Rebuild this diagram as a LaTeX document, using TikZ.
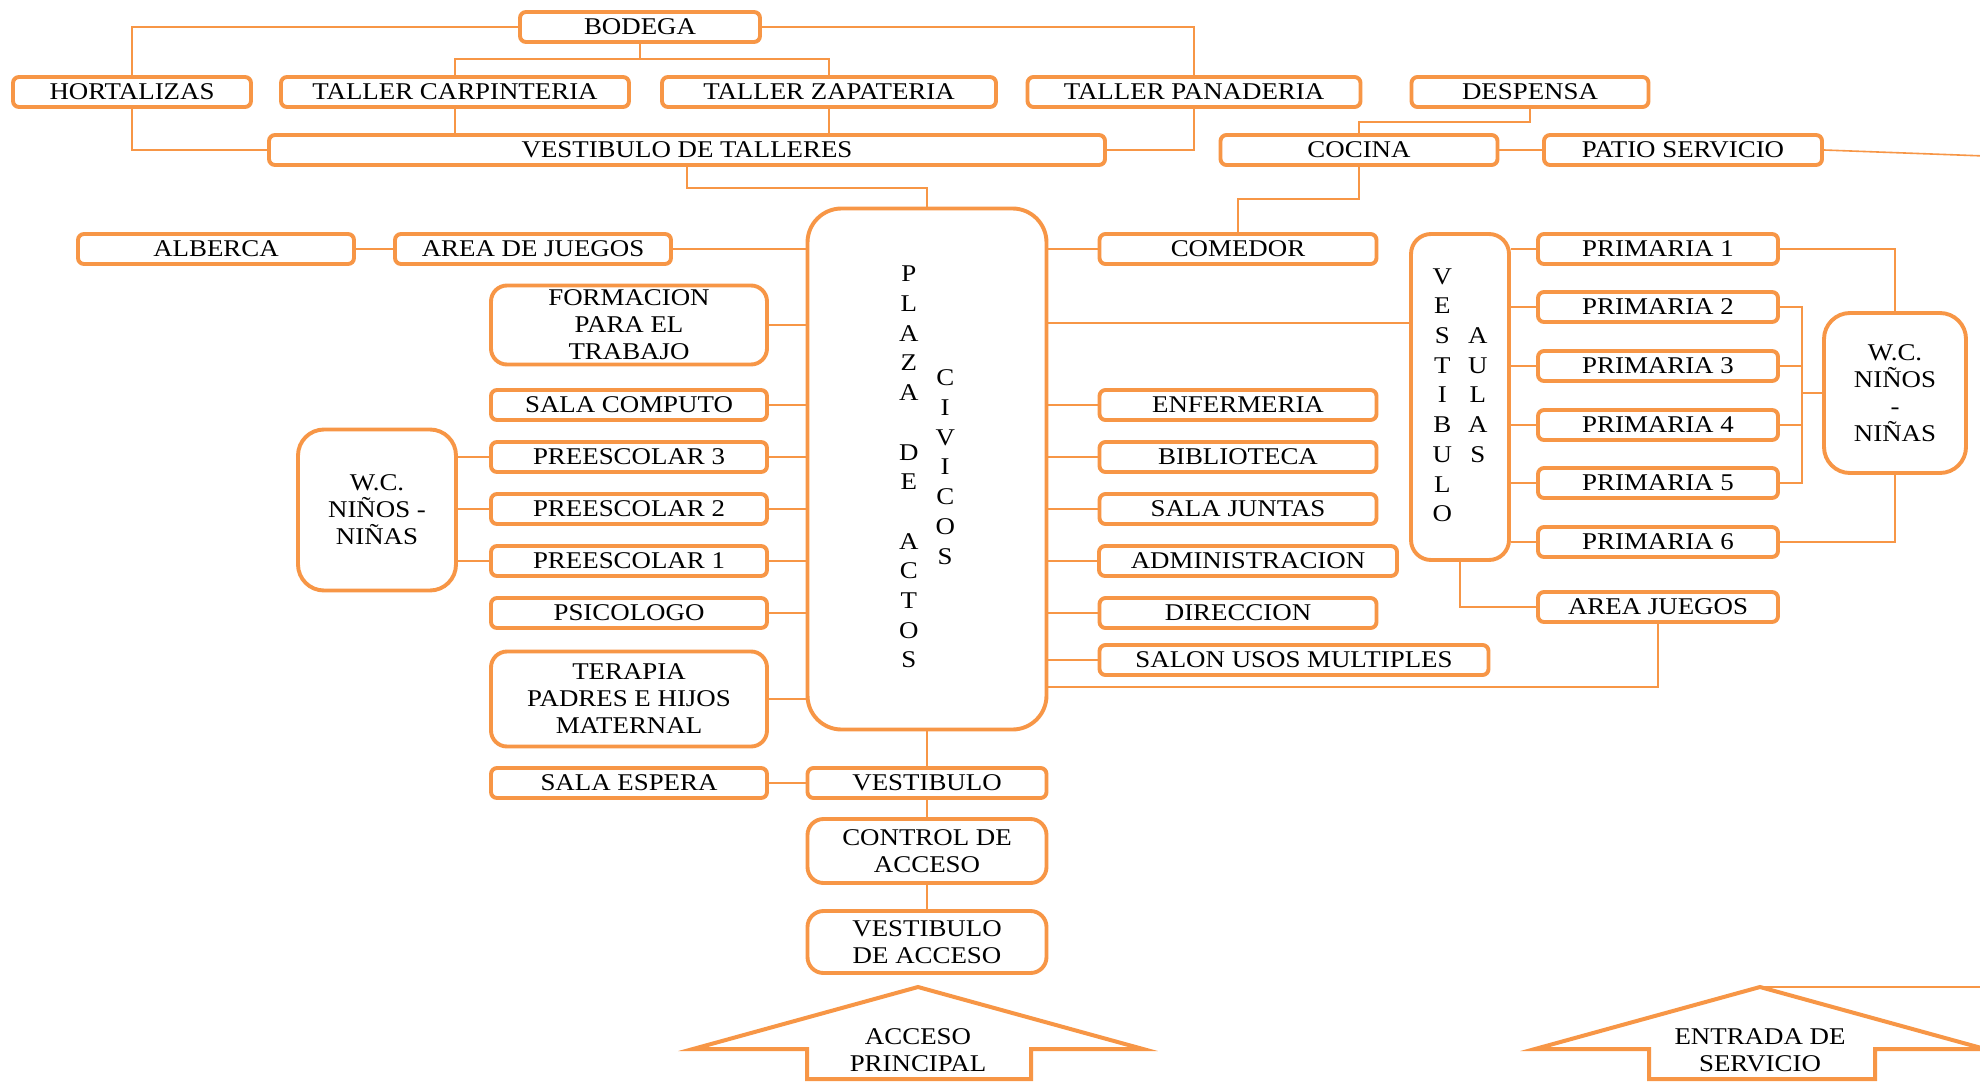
\documentclass[tikz,border=0pt]{standalone}
\usepackage{fontspec}
\setmainfont{Liberation Serif}[FakeStretch=1.12]
\usepackage{tikz}
\usetikzlibrary{calc}
\definecolor{naranja}{RGB}{247,150,70}
\newcommand{\vcol}[1]{{\fontsize{24}{29.7}\selectfont\begin{tabular}[c]{@{}c@{}}#1\end{tabular}}}
\tikzset{
  room/.style={draw=naranja, line width=3.9pt, rounded corners=6pt, fill=white, align=center, inner sep=0pt, minimum height=30pt},
  bigroom/.style={room, rounded corners=16pt},
  link/.style={draw=naranja, line width=1.6pt},
  entry/.style={draw=naranja, line width=4pt, line join=miter, fill=white},
  gate/.style={align=center, inner sep=0pt}
}

\begin{document}
\begin{tikzpicture}[x=1pt, y=-1pt, font=\fontsize{24}{27}\selectfont]
\useasboundingbox (0,0) rectangle (1980,1081);
\fill[white] (0,0) rectangle (1980,1081);
\clip (0,0) rectangle (1980,1081);

\node[room, minimum width=240] (bodega) at (640,27) {BODEGA};
\node[room, minimum width=238] (hortalizas) at (132,92) {HORTALIZAS};
\node[room, minimum width=348] (carpinteria) at (455,92) {TALLER CARPINTERIA};
\node[room, minimum width=334] (zapateria) at (829,92) {TALLER ZAPATERIA};
\node[room, minimum width=333] (panaderia) at (1194,92) {TALLER PANADERIA};
\node[room, minimum width=237] (despensa) at (1530,92) {DESPENSA};
\node[room, minimum width=836] (vesttalleres) at (687,150) {VESTIBULO DE TALLERES};
\node[room, minimum width=277] (cocina) at (1359,150) {COCINA};
\node[room, minimum width=278] (patio) at (1683,150) {PATIO SERVICIO};

\node[room, rounded corners=34pt, minimum width=239, minimum height=521] (plaza) at (927,469)
  {\vcol{P\\L\\A\\Z\\A\\~\\D\\E\\~\\A\\C\\T\\O\\S}\hspace{17pt}\vcol{C\\I\\V\\I\\C\\O\\S}};

\node[room, minimum width=276] (alberca) at (216,249) {ALBERCA};
\node[room, minimum width=276] (areadejuegos) at (533,249) {AREA DE JUEGOS};
\node[bigroom, minimum width=276, minimum height=79] (formacion) at (629,325) {FORMACION\\PARA EL\\TRABAJO};
\node[room, minimum width=276] (computo) at (629,405) {SALA COMPUTO};
\node[room, minimum width=276] (pre3) at (629,457) {PREESCOLAR 3};
\node[room, minimum width=276] (pre2) at (629,509) {PREESCOLAR 2};
\node[room, minimum width=276] (pre1) at (629,561) {PREESCOLAR 1};
\node[room, minimum width=276] (psicologo) at (629,613) {PSICOLOGO};
\node[bigroom, minimum width=276, minimum height=95] (terapia) at (629,699) {TERAPIA\\PADRES E HIJOS\\MATERNAL};
\node[room, minimum width=276] (espera) at (629,783) {SALA ESPERA};
\node[room, rounded corners=26pt, minimum width=158, minimum height=161] (wcpre) at (377,510) {W.C.\\NI\~NOS -\\NI\~NAS};

\node[room, minimum width=239] (vestibulo) at (927,783) {VESTIBULO};
\node[bigroom, minimum width=239, minimum height=64] (control) at (927,851) {CONTROL DE\\ACCESO};
\node[bigroom, minimum width=239, minimum height=62] (vestacceso) at (927,942) {VESTIBULO\\DE ACCESO};

\node[room, minimum width=277] (comedor) at (1238,249) {COMEDOR};
\node[room, minimum width=277] (enfermeria) at (1238,405) {ENFERMERIA};
\node[room, minimum width=277] (biblioteca) at (1238,457) {BIBLIOTECA};
\node[room, minimum width=277] (juntas) at (1238,509) {SALA JUNTAS};
\node[room, minimum width=298] (admin) at (1248,561) {ADMINISTRACION};
\node[room, minimum width=277] (direccion) at (1238,613) {DIRECCION};
\node[room, minimum width=389] (salon) at (1294,660) {SALON USOS MULTIPLES};

\node[room, rounded corners=20pt, minimum width=98, minimum height=326] (vestaulas) at (1460,397)
  {\vcol{V\\E\\S\\T\\I\\B\\U\\L\\O}\hspace{16pt}\vcol{A\\U\\L\\A\\S}};
\node[room, minimum width=240] (prim1) at (1658,249) {PRIMARIA 1};
\node[room, minimum width=240] (prim2) at (1658,307) {PRIMARIA 2};
\node[room, minimum width=240] (prim3) at (1658,366) {PRIMARIA 3};
\node[room, minimum width=240] (prim4) at (1658,425) {PRIMARIA 4};
\node[room, minimum width=240] (prim5) at (1658,483) {PRIMARIA 5};
\node[room, minimum width=240] (prim6) at (1658,542) {PRIMARIA 6};
\node[room, minimum width=240] (areajuegos) at (1658,607) {AREA JUEGOS};
\node[room, rounded corners=26pt, minimum width=142, minimum height=160] (wcprim) at (1895,393) {W.C.\\NI\~NOS\\-\\NI\~NAS};

\coordinate (patioout) at (1985,156);
\coordinate (bus) at (1802,393);
\coordinate (servtip) at (1760,987);
\coordinate (servout) at (1985,987);

\draw[link] (bodega.west) -| (hortalizas.north);
\draw[link] (bodega.east) -| (panaderia.north);
\draw[link] (bodega.south) -- ++(0,15);
\draw[link] (carpinteria.north) -- ++(0,-16) -| (zapateria.north);
\draw[link] (hortalizas.south) |- (vesttalleres.west);
\draw[link] (carpinteria.south) -- (carpinteria.south |- vesttalleres.north);
\draw[link] (zapateria.south) -- (zapateria.south |- vesttalleres.north);
\draw[link] (panaderia.south) |- (vesttalleres.east);
\draw[link] (vesttalleres.south) -- ++(0,21) -| (plaza.north);
\draw[link] (despensa.south) -- ++(0,13) -| (cocina.north);
\draw[link] (cocina.east) -- (patio.west);
\draw[link] (patio.east) -- (patioout);
\draw[link] (cocina.south) -- ++(0,32) -| (comedor.north);

\draw[link] (alberca.east) -- (areadejuegos.west);
\draw[link] (areadejuegos.east) -- (areadejuegos.east -| plaza.west);
\draw[link] (formacion.east) -- (formacion.east -| plaza.west);
\draw[link] (computo.east) -- (computo.east -| plaza.west);
\draw[link] (pre3.east) -- (pre3.east -| plaza.west);
\draw[link] (pre2.east) -- (pre2.east -| plaza.west);
\draw[link] (pre1.east) -- (pre1.east -| plaza.west);
\draw[link] (psicologo.east) -- (psicologo.east -| plaza.west);
\draw[link] (terapia.east) -- (terapia.east -| plaza.west);
\draw[link] (pre3.west) -- (pre3.west -| wcpre.east);
\draw[link] (pre2.west) -- (pre2.west -| wcpre.east);
\draw[link] (pre1.west) -- (pre1.west -| wcpre.east);
\draw[link] (espera.east) -- (vestibulo.west);
\draw[link] (plaza.south) -- (vestibulo.north);
\draw[link] (vestibulo.south) -- (control.north);
\draw[link] (control.south) -- (vestacceso.north);

\draw[link] (comedor.west) -- (comedor.west -| plaza.east);
\draw[link] (enfermeria.west) -- (enfermeria.west -| plaza.east);
\draw[link] (biblioteca.west) -- (biblioteca.west -| plaza.east);
\draw[link] (juntas.west) -- (juntas.west -| plaza.east);
\draw[link] (admin.west) -- (admin.west -| plaza.east);
\draw[link] (direccion.west) -- (direccion.west -| plaza.east);
\draw[link] (salon.west) -- (salon.west -| plaza.east);
\draw[link] (plaza.east |- 0,323) -- (vestaulas.west |- 0,323);
\draw[link] (areajuegos.south) |- (plaza.east |- 0,687);

\draw[link] (prim1.west) -- (prim1.west -| vestaulas.east);
\draw[link] (prim2.west) -- (prim2.west -| vestaulas.east);
\draw[link] (prim3.west) -- (prim3.west -| vestaulas.east);
\draw[link] (prim4.west) -- (prim4.west -| vestaulas.east);
\draw[link] (prim5.west) -- (prim5.west -| vestaulas.east);
\draw[link] (prim6.west) -- (prim6.west -| vestaulas.east);
\draw[link] (vestaulas.south) |- (areajuegos.west);
\draw[link] (prim1.east) -| (wcprim.north);
\draw[link] (prim6.east) -| (wcprim.south);
\draw[link] (prim2.east) -| (bus);
\draw[link] (prim5.east) -| (bus);
\draw[link] (prim3.east) -- (prim3.east -| bus);
\draw[link] (prim4.east) -- (prim4.east -| bus);
\draw[link] (bus) -- (wcprim.west);

\draw[entry] (918,987) -- (1143,1049) -- (1031,1049) -- (1031,1079) -- (807,1079) -- (807,1049) -- (693,1049) -- cycle;
\node[gate] (accprincipal) at (918,1050) {ACCESO\\PRINCIPAL};
\draw[entry] (servtip) -- (1985,1049) -- (1875,1049) -- (1875,1079) -- (1649,1079) -- (1649,1049) -- (1535,1049) -- cycle;
\node[gate] (entservicio) at (1760,1050) {ENTRADA DE\\SERVICIO};
\draw[link] (servtip) -- (servout);
\end{tikzpicture}
\end{document}
